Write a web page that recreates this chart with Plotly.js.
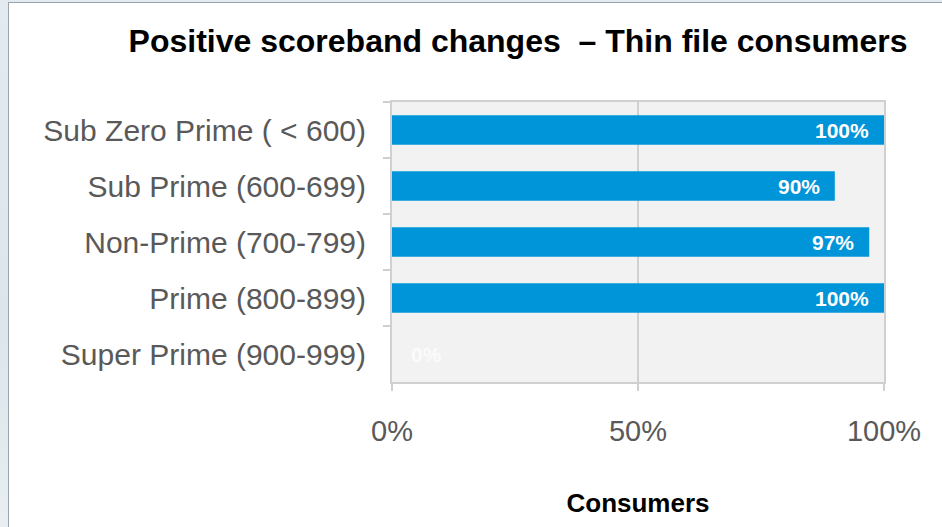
<!DOCTYPE html>
<html>
<head>
<meta charset="utf-8">
<script src="https://cdn.plot.ly/plotly-3.0.1.min.js"></script>
<style>
  html, body { margin: 0; padding: 0; width: 942px; height: 527px; overflow: hidden;
    background: linear-gradient(180deg, #e3ebf0 0%, #dbe5eb 60%, #e8eef1 100%); }
  #wrap { position: absolute; left: 8px; top: 2px; width: 934px; height: 525px;
    border-left: 1px solid #9aa4aa; border-top: 1px solid #9aa4aa; background: #ffffff; }
  #chart { position: absolute; left: 0; top: 0; width: 933px; height: 524px; }
</style>
</head>
<body>
<div id="wrap"><div id="chart"></div></div>
<script>
const categories = [
  "Sub Zero Prime ( < 600)",
  "Sub Prime (600-699)",
  "Non-Prime (700-799)",
  "Prime (800-899)",
  "Super Prime (900-999)"
];
const values = [1.00, 0.90, 0.97, 1.00, 0.00];
const labels = ["100%", "90%", "97%", "100%", "0%"];
const xTicks = [0, 0.5, 1];
const xTickText = ["0%", "50%", "100%"];

const barColor = "#0094d9";
const gridColor = "#d0d0d0";
const fontFam = "Liberation Sans, Arial, sans-serif";

const trace = {
  type: "bar",
  orientation: "h",
  y: categories,
  x: values,
  marker: { color: barColor },
  width: 0.53,
  textposition: "none",
  hoverinfo: "skip"
};

const annotations = values.map((v, i) => ({
  x: v, y: categories[i], xref: "x", yref: "y",
  text: "<b>" + labels[i] + "</b>",
  showarrow: false,
  xanchor: v > 0 ? "right" : "left",
  xshift: v > 0 ? -13 : 17,
  font: { family: fontFam, size: 21, color: v > 0 ? "#ffffff" : "#fbfbfb" }
}));

const layout = {
  width: 933, height: 524,
  margin: { l: 383, r: 58, t: 99, b: 145 },
  paper_bgcolor: "#ffffff",
  plot_bgcolor: "#f2f2f2",
  showlegend: false,
  title: {
    text: "<b>Positive scoreband changes  – Thin file consumers</b>",
    xref: "container", yref: "container",
    x: 0.5456, y: 0.928, xanchor: "center", yanchor: "middle",
    font: { family: fontFam, size: 32, color: "#000000" }
  },
  xaxis: {
    range: [0, 1],
    tickvals: xTicks, ticktext: xTickText,
    showgrid: true, gridcolor: gridColor, gridwidth: 2,
    showline: true, linecolor: gridColor, linewidth: 2, mirror: true,
    ticks: "outside", ticklen: 7, tickcolor: gridColor, tickwidth: 2,
    zeroline: false,
    ticklabelstandoff: 15,
    tickfont: { family: fontFam, size: 29, color: "#595959" },
    title: { text: "<b>Consumers</b>", standoff: 48,
      font: { family: fontFam, size: 26, color: "#000000" } },
    automargin: false, fixedrange: true
  },
  yaxis: {
    type: "category",
    autorange: "reversed",
    tickson: "boundaries",
    showgrid: false,
    showline: true, linecolor: gridColor, linewidth: 2, mirror: true,
    ticks: "outside", ticklen: 7, tickcolor: gridColor, tickwidth: 2,
    ticklabelstandoff: 18,
    tickfont: { family: fontFam, size: 30, color: "#595959" },
    automargin: false, fixedrange: true
  },
  annotations: annotations
};

Plotly.newPlot("chart", [trace], layout, { displayModeBar: false, staticPlot: true });
</script>
</body>
</html>
